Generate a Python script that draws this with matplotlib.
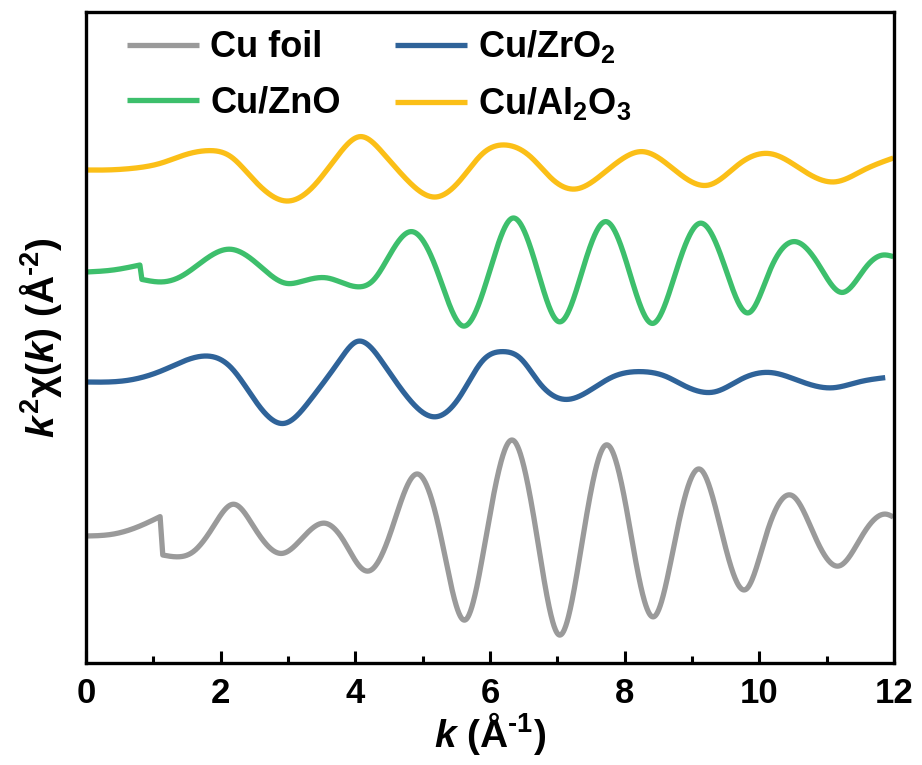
import numpy as np
import matplotlib
matplotlib.use("Agg")
import matplotlib.pyplot as plt

# ---------------- data ----------------
k_foil = [0, 0.41, 0.80, 1.10, 1.14, 1.35, 1.59, 1.89, 2.19, 2.49, 2.91, 3.23, 3.55, 3.82,
          4.07, 4.21, 4.52, 4.91, 5.26, 5.63, 5.95, 6.33, 6.69, 7.03, 7.39, 7.72, 8.03,
          8.18, 8.43, 8.77, 9.12, 9.47, 9.80, 10.11, 10.50, 10.85, 11.18, 11.55, 11.89, 11.99]
chi_foil = [0, 0.10, 0.50, 0.97, -0.95, -1.04, -0.79, 0.47, 1.59, 0.47, -0.87, -0.04, 0.64, -0.20,
            -1.54, -1.74, 0.14, 3.10, 0.14, -4.20, 0.14, 4.80, 0.14, -4.95, 0.14, 4.55, 1.30,
            -1.54, -4.04, 0.14, 3.34, -0.20, -2.67, 0.14, 2.00, -0.20, -1.50, 0.14, 1.09, 0.95]

k_zro2 = [0, 0.65, 1.15, 1.77, 2.14, 2.58, 2.94, 3.33, 3.77, 4.02, 4.41, 4.81, 5.18, 5.55,
          5.90, 6.19, 6.45, 6.74, 7.14, 7.53, 7.83, 8.23, 8.62, 8.82, 9.34, 9.76, 10.18, 10.56,
          11.08, 11.50, 11.87]
chi_zro2 = [0, 0.10, 0.60, 1.30, 0.77, -1.24, -2.07, -0.90, 1.10, 2.02, 0.95, -0.90, -1.74, -0.74,
            1.10, 1.52, 1.19, -0.07, -0.87, -0.32, 0.27, 0.52, 0.27, -0.07, -0.49, 0.19, 0.47, 0.10,
            -0.29, 0.02, 0.22]

k_zno = [0, 0.40, 0.80, 0.83, 1.15, 1.40, 2.14, 2.53, 2.98, 3.18, 3.57, 4.04, 4.27, 4.51, 4.84,
         5.21, 5.60, 6.00, 6.33, 6.69, 7.03, 7.39, 7.72, 8.03, 8.41, 8.77, 9.12, 9.47, 9.84,
         10.16, 10.53, 10.90, 11.22, 11.59, 11.84, 11.99]
chi_zno = [0, 0.10, 0.35, -0.37, -0.49, -0.24, 1.14, 0.45, -0.57, -0.49, -0.29, -0.74, -0.40, 0.85,
           2.02, 0.10, -2.70, 0.10, 2.69, 0.27, -2.49, 0.27, 2.52, 0.45, -2.57, 0.10, 2.44, 0.44,
           -2.04, 0.10, 1.52, 0.27, -1.02, 0.27, 0.85, 0.77]

k_al2o3 = [0, 0.27, 0.71, 1.11, 1.46, 1.83, 2.15, 2.45, 2.98, 3.37, 3.77, 4.07, 4.41, 4.77,
           5.19, 5.56, 5.90, 6.23, 6.60, 6.94, 7.27, 7.69, 7.94, 8.26, 8.68, 9.25, 9.72, 10.19,
           10.71, 11.13, 11.55, 11.99]
chi_al2o3 = [0, 0, 0.09, 0.34, 0.75, 0.97, 0.67, -0.34, -1.55, -0.84, 0.85, 1.67, 0.85, -0.50,
             -1.35, -0.50, 0.85, 1.25, 0.67, -0.50, -0.95, -0.15, 0.50, 0.92, 0.17, -0.75, 0.35,
             0.80, -0.15, -0.59, 0.00, 0.60]

labels = ["Cu foil", "Cu/ZrO$_2$", "Cu/ZnO", "Cu/Al$_2$O$_3$"]
offsets = [6.35, 14.05, 19.55, 24.65]
colors = ["#9a9a9a", "#2f6399", "#3dbf6c", "#fbbf17"]
xticks = [0, 2, 4, 6, 8, 10, 12]

# ---------------- fonts ----------------
fam = "Liberation Sans"
plt.rcParams["font.family"] = [fam, "DejaVu Sans"]
plt.rcParams["font.weight"] = "bold"
plt.rcParams["mathtext.fontset"] = "custom"
plt.rcParams["mathtext.rm"] = f"{fam}:bold"
plt.rcParams["mathtext.bf"] = f"{fam}:bold"
plt.rcParams["mathtext.it"] = f"{fam}:bold:italic"


def natural_spline(x, y, xs):
    """Smooth cubic line through the read points (rendering only)."""
    x = np.asarray(x, float); y = np.asarray(y, float)
    n = len(x)
    if n < 3:
        return np.interp(xs, x, y)
    h = np.diff(x)
    A = np.zeros((n, n)); b = np.zeros(n)
    A[0, 0] = A[-1, -1] = 1
    for i in range(1, n - 1):
        A[i, i - 1] = h[i - 1]; A[i, i] = 2 * (h[i - 1] + h[i]); A[i, i + 1] = h[i]
        b[i] = 6 * ((y[i + 1] - y[i]) / h[i] - (y[i] - y[i - 1]) / h[i - 1])
    M = np.linalg.solve(A, b)
    idx = np.clip(np.searchsorted(x, xs) - 1, 0, n - 2)
    x0, x1 = x[idx], x[idx + 1]; hh = h[idx]
    return (M[idx] * (x1 - xs) ** 3 / (6 * hh) + M[idx + 1] * (xs - x0) ** 3 / (6 * hh)
            + (y[idx] / hh - M[idx] * hh / 6) * (x1 - xs)
            + (y[idx + 1] / hh - M[idx + 1] * hh / 6) * (xs - x0))


def smooth_line(kx, cy):
    """Spline each smooth stretch; the sharp edge steps stay straight."""
    kx = np.asarray(kx, float); cy = np.asarray(cy, float)
    breaks = [i for i in range(len(kx) - 1) if kx[i + 1] - kx[i] < 0.06]
    starts = [0] + [i + 1 for i in breaks]
    ends = [i for i in breaks] + [len(kx) - 1]
    X, Y = [], []
    for s, e in zip(starts, ends):
        seg_x = kx[s:e + 1]; seg_y = cy[s:e + 1]
        xs = np.linspace(seg_x[0], seg_x[-1], max(int((seg_x[-1] - seg_x[0]) * 150), 2))
        X.append(xs); Y.append(natural_spline(seg_x, seg_y, xs))
    return np.concatenate(X), np.concatenate(Y)


fig = plt.figure(figsize=(9.22, 7.65), dpi=100)
ax = fig.add_axes([0.0933, 0.1333, 0.8763, 0.8510])

series = [(k_foil, chi_foil), (k_zro2, chi_zro2), (k_zno, chi_zno), (k_al2o3, chi_al2o3)]
handles = []
for (kx, cy), off, col, lab in zip(series, offsets, colors, labels):
    xs, ys = smooth_line(kx, cy)
    h, = ax.plot(xs, ys + off, color=col, lw=3.8, label=lab, solid_capstyle="butt")
    handles.append(h)

ax.set_xlim(0, 12)
ax.set_ylim(0, 32.55)
ax.set_xticks(xticks)
ax.set_xticks([1, 3, 5, 7, 9, 11], minor=True)
ax.set_xticklabels([str(t) for t in xticks])
ax.set_yticks([])
ax.tick_params(axis="x", which="major", direction="in", length=9, width=2.2,
               labelsize=25, pad=10)
ax.tick_params(axis="x", which="minor", direction="in", length=5, width=2.2)
for s in ax.spines.values():
    s.set_linewidth(2.4)

ax.set_xlabel("$k$ (Å$^{\u20101}$)", fontsize=28, fontweight="bold", labelpad=0)
ax.set_ylabel("$k^2$χ($k$) (Å$^{\u20102}$)", fontsize=28, fontweight="bold", labelpad=16)

order = [0, 2, 1, 3]
leg = ax.legend([handles[i] for i in order], [labels[i] for i in order],
                ncol=2, loc="upper left", frameon=False, fontsize=26,
                handlelength=2.0, handletextpad=0.3, columnspacing=1.5,
                labelspacing=0.55, bbox_to_anchor=(0.033, 0.997), borderaxespad=0.0)
for t in leg.get_texts():
    t.set_fontweight("bold")

fig.savefig("out.png", dpi=100)
